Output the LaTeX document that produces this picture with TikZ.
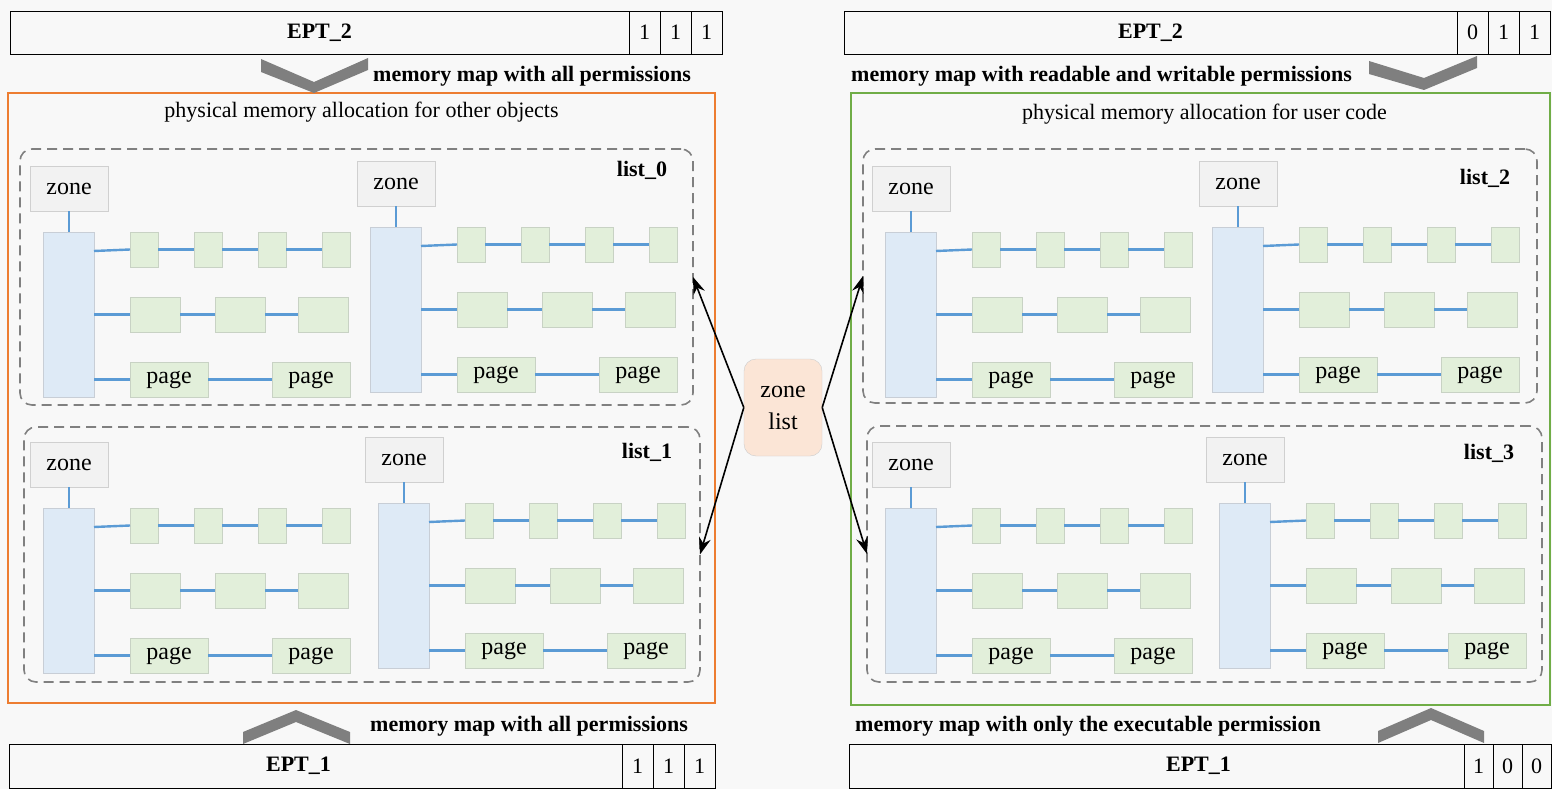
\documentclass[tikz,border=0pt]{standalone}
\usepackage{fontspec}
\setmainfont{Liberation Serif}
\usetikzlibrary{arrows.meta,positioning,calc}
\definecolor{bgcol}{RGB}{248,248,248}
\definecolor{zonefill}{RGB}{242,242,242}
\definecolor{zoneline}{RGB}{208,208,208}
\definecolor{barfill}{RGB}{222,234,246}
\definecolor{barline}{RGB}{200,206,214}
\definecolor{pagefill}{RGB}{226,239,218}
\definecolor{pageline}{RGB}{200,210,196}
\definecolor{linkblue}{RGB}{91,155,213}
\definecolor{framegray}{RGB}{128,128,128}
\definecolor{otherorange}{RGB}{237,125,49}
\definecolor{usergreen}{RGB}{112,173,71}
\definecolor{chevgray}{RGB}{127,127,127}
\definecolor{zlfill}{RGB}{251,229,214}
\definecolor{zlline}{RGB}{205,205,205}

\tikzset{
  boxbase/.style={anchor=north west,inner sep=0pt,outer sep=0pt},
  zonebox/.style={boxbase,draw=zoneline,fill=zonefill,minimum width=78pt,minimum height=45pt,
        font=\fontsize{24}{28}\selectfont},
  zonebar/.style={boxbase,draw=barline,fill=barfill,minimum width=51pt,minimum height=165pt},
  pagebox/.style={boxbase,draw=pageline,fill=pagefill,minimum height=35pt,
        font=\fontsize{24}{28}\selectfont},
  zlink/.style={draw=linkblue,line width=2.4pt},
  listframe/.style={boxbase,draw=framegray,line width=1.6pt,dash pattern=on 10pt off 6pt,
        rounded corners=12pt},
  listlabel/.style={font=\fontsize{22}{26}\selectfont\bfseries,inner sep=0pt},
  panel/.style={boxbase,line width=1.6pt},
  paneltitle/.style={font=\fontsize{22}{26}\selectfont,inner sep=0pt},
  eptbar/.style={boxbase,draw=black,line width=0.8pt,minimum height=43pt,
        font=\fontsize{22}{26}\selectfont\bfseries},
  permcell/.style={anchor=west,inner sep=0pt,outer sep=0pt,draw=black,line width=0.8pt,
        minimum width=31pt,minimum height=43pt,font=\fontsize{22}{26}\selectfont},
  maptext/.style={anchor=west,inner sep=0pt,font=\fontsize{22}{26}\selectfont\bfseries},
  zonelist/.style={draw=zlline,fill=zlfill,rounded corners=12pt,minimum width=78pt,
        minimum height=97pt,inner sep=0pt,align=center,font=\fontsize{24}{32}\selectfont},
  zarrow/.style={->,line width=1.6pt,black}
}

% one zone with its page lists: #1 name prefix, #2 x, #3 y of the zone box
\newcommand{\zonegroup}[3]{%
  \node[zonebox] (#1z) at (#2,#3) {zone};
  \node[zonebar] (#1r) at (#2+13,#3+66) {};
  \node[pagebox,minimum width=28pt] (#1a1) at (#2+100,#3+66) {};
  \node[pagebox,minimum width=28pt] (#1a2) at (#2+164,#3+66) {};
  \node[pagebox,minimum width=28pt] (#1a3) at (#2+228,#3+66) {};
  \node[pagebox,minimum width=28pt] (#1a4) at (#2+292,#3+66) {};
  \node[pagebox,minimum width=50pt] (#1b1) at (#2+100,#3+131) {};
  \node[pagebox,minimum width=50pt] (#1b2) at (#2+185,#3+131) {};
  \node[pagebox,minimum width=50pt] (#1b3) at (#2+268,#3+131) {};
  \node[pagebox,minimum width=78pt] (#1c1) at (#2+100,#3+196) {page};
  \node[pagebox,minimum width=78pt] (#1c2) at (#2+242,#3+196) {page};
  \draw[zlink] (#1z.south) -- (#1z.south |- #1r.north);
  \draw[zlink] ($(#1r.north east)+(0,19)$) -- (#1a1.west);
  \draw[zlink] (#1a1) -- (#1a2) -- (#1a3) -- (#1a4);
  \draw[zlink] (#1r.east |- #1b1) -- (#1b1) -- (#1b2) -- (#1b3);
  \draw[zlink] (#1r.east |- #1c1) -- (#1c1) -- (#1c2);
}

\begin{document}
\begin{tikzpicture}[x=1pt,y=-1pt,>={Stealth[length=17pt,width=12pt]}]

  \fill[bgcol] (0,0) rectangle (1552,789);
  \useasboundingbox (0,0) rectangle (1552,789);

  % the two memory regions
  \node[panel,draw=otherorange,minimum width=707pt,minimum height=610pt] (otherpanel) at (8,93) {};
  \node[paneltitle] (othertitle) at ($(otherpanel.north)+(0,19)$) {physical memory allocation for other objects};

  \node[panel,draw=usergreen,minimum width=699pt,minimum height=612pt] (userpanel) at (851,93) {};
  \node[paneltitle] (usertitle) at ($(userpanel.north)+(4,21)$) {physical memory allocation for user code};

  % EPT bars with permission bits
  \node[eptbar,minimum width=619pt] (ept2l) at (10,11) {EPT\_2};
  \node[permcell,right=0pt of ept2l] (ept2la) {1};
  \node[permcell,right=0pt of ept2la] (ept2lb) {1};
  \node[permcell,right=0pt of ept2lb] (ept2lc) {1};

  \node[eptbar,minimum width=613pt] (ept2r) at (844,11) {EPT\_2};
  \node[permcell,right=0pt of ept2r] (ept2ra) {0};
  \node[permcell,right=0pt of ept2ra] (ept2rb) {1};
  \node[permcell,right=0pt of ept2rb] (ept2rc) {1};

  \node[eptbar,minimum width=613pt,minimum height=44pt] (ept1l) at (9,744) {};
  \node[listlabel] (ept1ltext) at ($(ept1l.center)+(-17,0)$) {EPT\_1};
  \node[permcell,minimum height=44pt,right=0pt of ept1l] (ept1la) {1};
  \node[permcell,minimum height=44pt,right=0pt of ept1la] (ept1lb) {1};
  \node[permcell,minimum height=44pt,right=0pt of ept1lb] (ept1lc) {1};

  \node[eptbar,minimum width=615pt,minimum height=44pt] (ept1r) at (849,744) {};
  \node[listlabel] (ept1rtext) at ($(ept1r.center)+(42,0)$) {EPT\_1};
  \node[permcell,minimum width=29pt,minimum height=44pt,right=0pt of ept1r] (ept1ra) {1};
  \node[permcell,minimum width=29pt,minimum height=44pt,right=0pt of ept1ra] (ept1rb) {0};
  \node[permcell,minimum width=29pt,minimum height=44pt,right=0pt of ept1rb] (ept1rc) {0};

  % chevrons
  \fill[chevgray] (261,59) -- (314,82) -- (368,58) -- (368,70) -- (314,93) -- (261,72) -- cycle;
  \fill[chevgray] (1369,61) -- (1424,78) -- (1477,56) -- (1477,68) -- (1424,90) -- (1369,74) -- cycle;
  \fill[chevgray] (243,732) -- (296,710) -- (350,732) -- (350,744) -- (296,722) -- (243,744) -- cycle;
  \fill[chevgray] (1378,731) -- (1431,708) -- (1484,731) -- (1484,743) -- (1431,720) -- (1378,743) -- cycle;

  \node[maptext] (mapallt) at (373,76) {memory map with all permissions};
  \node[maptext] (maprw) at (851,76) {memory map with readable and writable permissions};
  \node[maptext] (mapallb) at (370,726) {memory map with all permissions};
  \node[maptext] (mapx) at (855,726) {memory map with only the executable permission};

  % zone lists
  \node[listframe,minimum width=673pt,minimum height=256pt] (list0) at (20,149) {};
  \node[listlabel] (list0lab) at ($(list0.north east)+(-51,21)$) {list\_0};
  \node[listframe,minimum width=676pt,minimum height=255pt] (list1) at (24,427) {};
  \node[listlabel] (list1lab) at ($(list1.north east)+(-53,25)$) {list\_1};
  \node[listframe,minimum width=674pt,minimum height=254pt] (list2) at (863,149) {};
  \node[listlabel] (list2lab) at ($(list2.north east)+(-52,29)$) {list\_2};
  \node[listframe,minimum width=675pt,minimum height=256pt] (list3) at (867,426) {};
  \node[listlabel] (list3lab) at ($(list3.north east)+(-53,27)$) {list\_3};

  \zonegroup{ga}{30}{166}
  \zonegroup{gb}{357}{161}
  \zonegroup{gc}{30}{442}
  \zonegroup{gd}{365}{437}
  \zonegroup{ge}{872}{166}
  \zonegroup{gf}{1199}{161}
  \zonegroup{gg}{872}{442}
  \zonegroup{gh}{1206}{437}

  \node[zonelist] (zonelist) at (783,407.5) {zone\\list};

  \draw[zarrow] (zonelist.west) -- (list0.east);
  \draw[zarrow] (zonelist.west) -- (list1.east);
  \draw[zarrow] (zonelist.east) -- (list2.west);
  \draw[zarrow] (zonelist.east) -- (list3.west);

\end{tikzpicture}
\end{document}
